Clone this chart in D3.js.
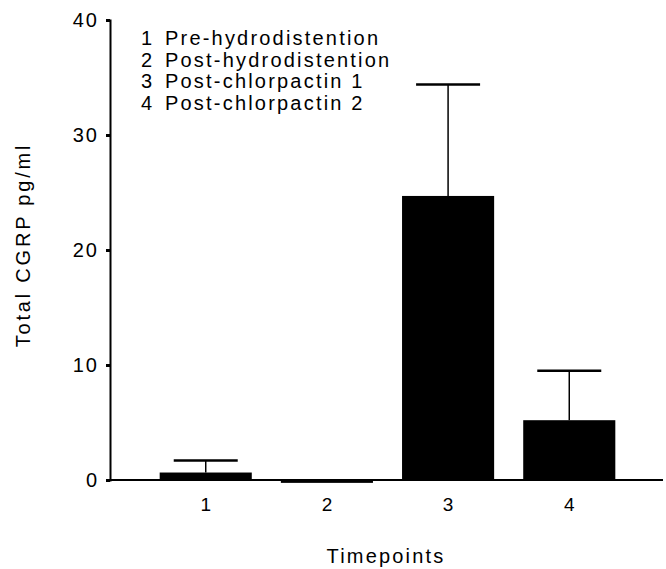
<!DOCTYPE html>
<html>
<head>
<meta charset="utf-8">
<script src="https://cdn.jsdelivr.net/npm/d3@7"></script>
<style>
  body { margin: 0; background: #fff; }
  text { font-family: "Liberation Sans", Arial, sans-serif; fill: #000; }
</style>
</head>
<body>
<div id="chart"></div>
<script>
const width = 666;
const height = 569;

// adatok
const timepoints = ["1", "2", "3", "4"];
const means = [0.65, -0.25, 24.7, 5.2];
const errors = [1.05, 0, 9.7, 4.3];
const yTicks = [0, 10, 20, 30, 40];
const legendLabels = [
  "Pre-hydrodistention",
  "Post-hydrodistention",
  "Post-chlorpactin 1",
  "Post-chlorpactin 2"
];

const svg = d3.select("#chart")
  .append("svg")
  .attr("width", width)
  .attr("height", height);

// skálák
const x = d3.scaleBand()
  .domain(timepoints)
  .range([110, 665])
  .paddingInner(0.24)
  .paddingOuter(0.41);

const y = d3.scaleLinear()
  .domain([0, 40])
  .range([480, 20]);

// oszlopok
svg.selectAll(".bar")
  .data(timepoints)
  .enter()
  .append("rect")
  .attr("class", "bar")
  .attr("x", d => x(d))
  .attr("width", x.bandwidth())
  .attr("y", (d, i) => y(Math.max(0, means[i])))
  .attr("height", (d, i) => Math.max(Math.abs(y(means[i]) - y(0)), 1))
  .attr("fill", "#000");

// hibasávok
const errG = svg.append("g")
  .selectAll("g")
  .data(timepoints.filter((d, i) => errors[i] > 0))
  .enter()
  .append("g");

errG.append("line")
  .attr("x1", d => x(d) + x.bandwidth() / 2)
  .attr("x2", d => x(d) + x.bandwidth() / 2)
  .attr("y1", d => y(means[timepoints.indexOf(d)]))
  .attr("y2", d => { const i = timepoints.indexOf(d); return y(means[i] + errors[i]); })
  .attr("stroke", "#000")
  .attr("stroke-width", 1.5);

errG.append("line")
  .attr("x1", d => x(d) + x.bandwidth() / 2 - 32)
  .attr("x2", d => x(d) + x.bandwidth() / 2 + 32)
  .attr("y1", d => { const i = timepoints.indexOf(d); return y(means[i] + errors[i]); })
  .attr("y2", d => { const i = timepoints.indexOf(d); return y(means[i] + errors[i]); })
  .attr("stroke", "#000")
  .attr("stroke-width", 2.5);

// y tengely
const yAxis = svg.append("g")
  .attr("transform", "translate(110,0)")
  .call(d3.axisLeft(y).tickValues(yTicks).tickSize(4).tickPadding(7));
yAxis.select(".domain").attr("stroke-width", 2);
yAxis.selectAll(".tick line").attr("stroke-width", 3);
yAxis.selectAll(".tick text")
  .style("font-size", "20px")
  .style("letter-spacing", "2px")
  .attr("font-family", null);

// x tengely
const xAxis = svg.append("g")
  .attr("transform", `translate(0,${y(0)})`)
  .call(d3.axisBottom(x).tickSize(0).tickPadding(18).tickSizeOuter(0));
xAxis.select(".domain").attr("stroke-width", 2).attr("d", "M110,0H663");
xAxis.selectAll(".tick text")
  .style("font-size", "19px")
  .attr("font-family", null);

// tengelyfeliratok
svg.append("text")
  .attr("x", 386)
  .attr("y", 563)
  .attr("text-anchor", "middle")
  .style("font-size", "20px")
  .style("letter-spacing", "2.2px")
  .text("Timepoints");

svg.append("text")
  .attr("transform", "translate(30,245) rotate(-90)")
  .attr("text-anchor", "middle")
  .style("font-size", "20px")
  .style("letter-spacing", "2.8px")
  .text("Total CGRP pg/ml");

// jelmagyarázat
const legend = svg.append("g")
  .selectAll("g")
  .data(legendLabels)
  .enter()
  .append("g")
  .attr("transform", (d, i) => `translate(0,${45 + i * 21.7})`)
  .style("font-size", "20px");

legend.append("text")
  .attr("x", 141)
  .text((d, i) => timepoints[i]);

legend.append("text")
  .attr("x", 165)
  .style("letter-spacing", "2.2px")
  .text(d => d);
</script>
</body>
</html>
